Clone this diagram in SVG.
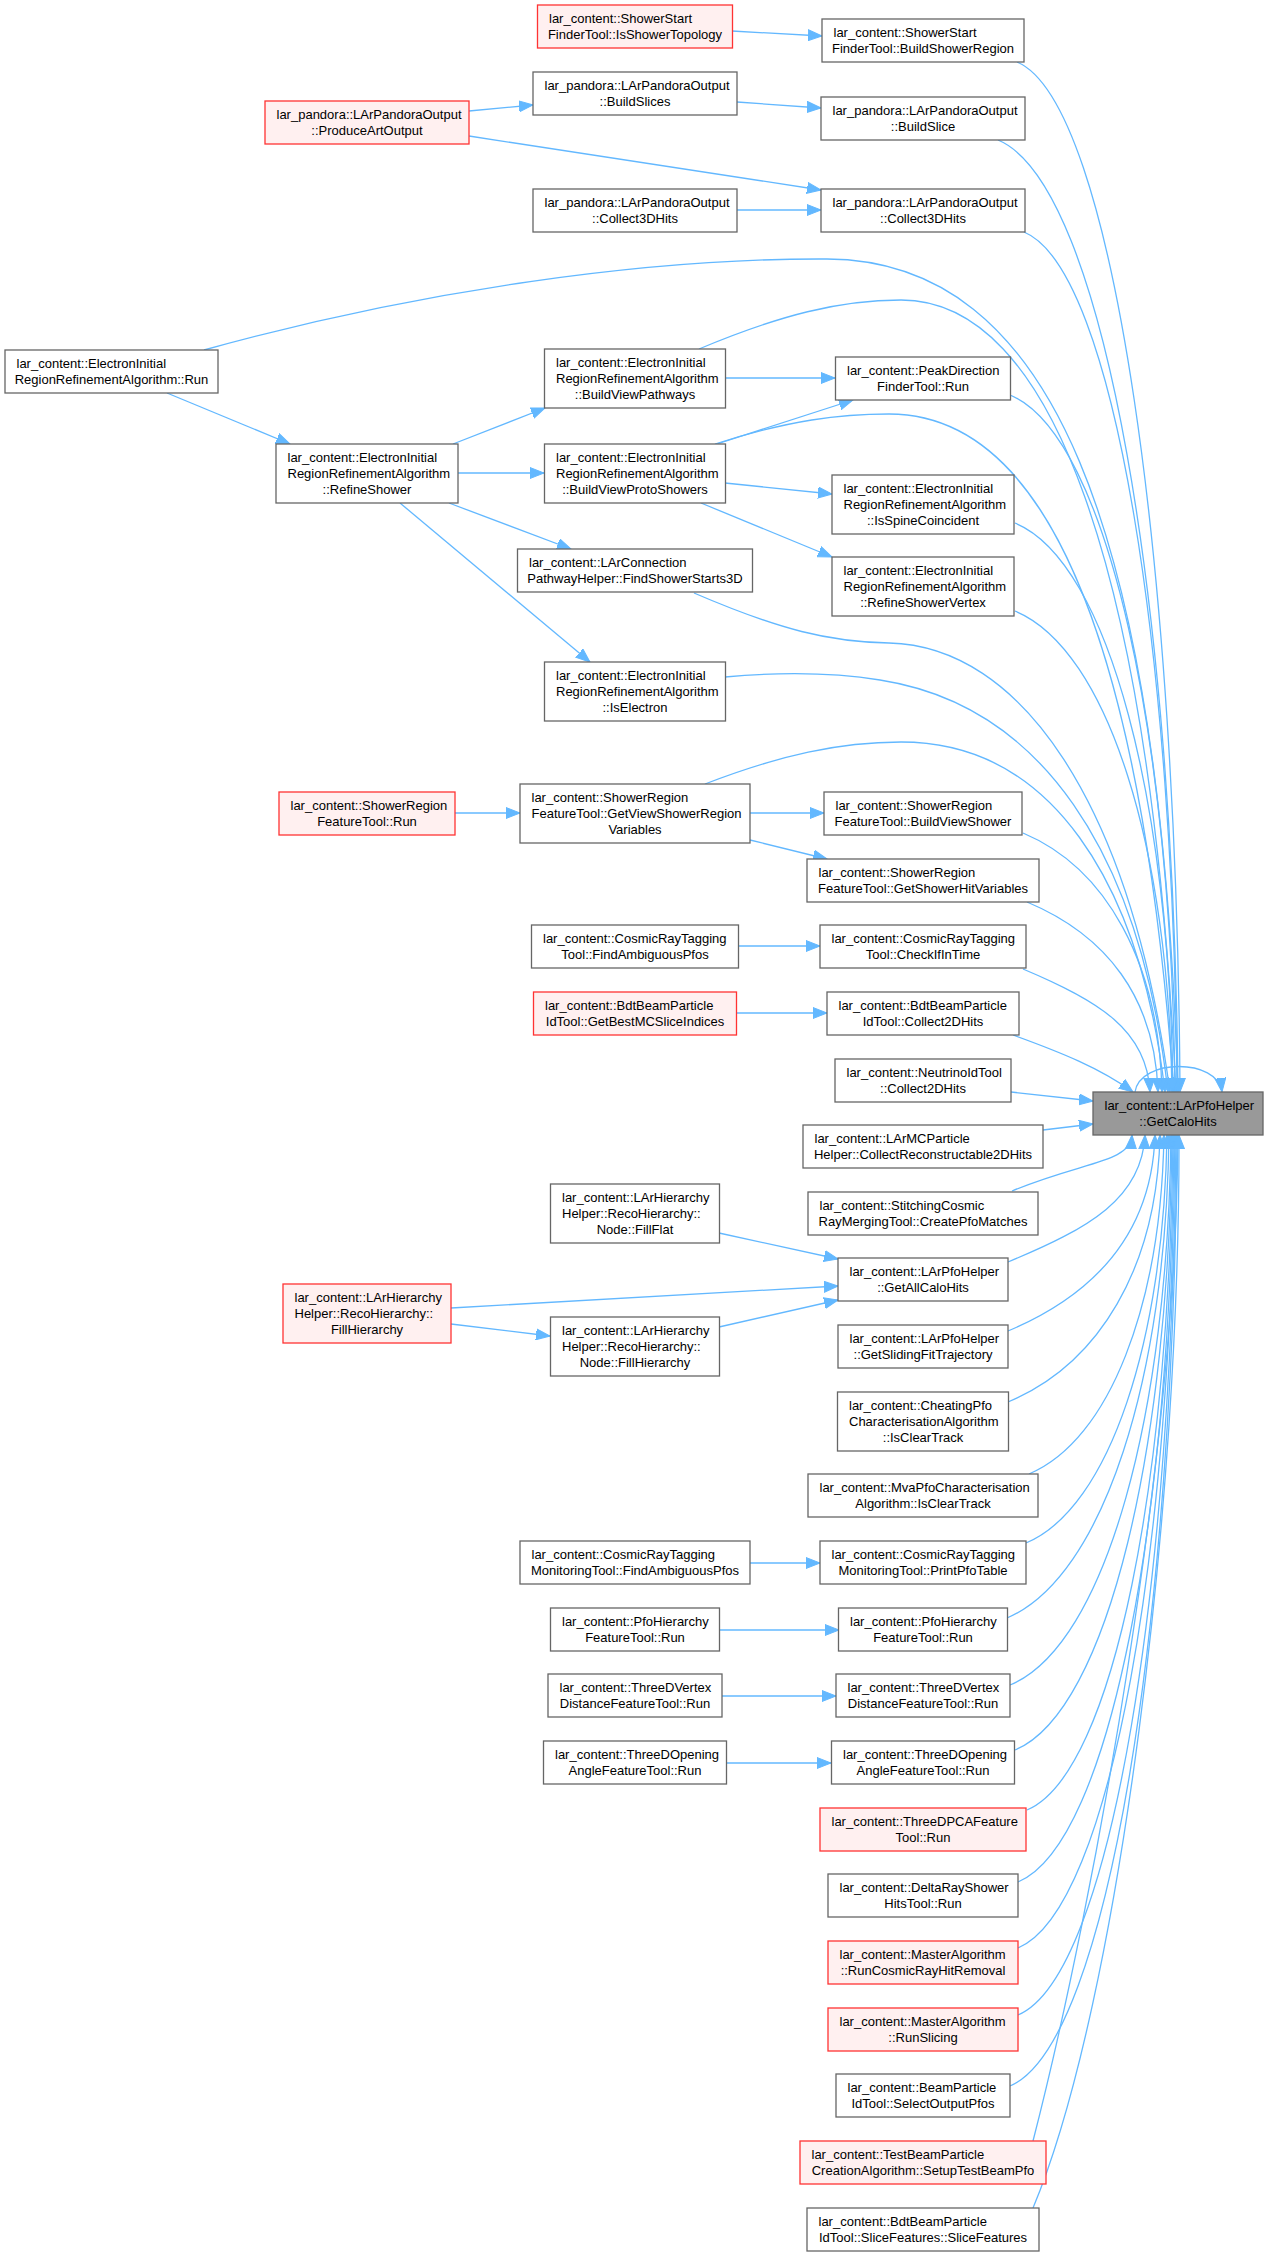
<svg xmlns="http://www.w3.org/2000/svg" width="1267" height="2256" viewBox="0 0 1267 2256">
<style>
text{font-family:"Liberation Sans",Arial,sans-serif;font-size:13px;fill:#000}
.m{text-anchor:middle}
.nd rect{fill:#fff;stroke:#666;stroke-width:1.3}
.rd rect{fill:#fff0f0;stroke:#f33;stroke-width:1.3}
.tg rect{fill:#999;stroke:#666;stroke-width:1.3}
#edges path{fill:none;stroke:#63b8ff;stroke-width:1.3;marker-end:url(#ah)}
</style>
<defs>
<marker id="ah" markerUnits="userSpaceOnUse" markerWidth="16" markerHeight="12" refX="14" refY="6" orient="auto">
<path d="M0,0.5 L14,6 L0,11.5 Z" fill="#63b8ff" stroke="#63b8ff" stroke-width="1"/>
</marker>
</defs>
<rect width="1267" height="2256" fill="#fff"/>
<g id="edges">
<path d="M732,31 L822,36"/>
<path d="M737,102 L821,108"/>
<path d="M469,111 L533,105"/>
<path d="M469,136 L821,190"/>
<path d="M737,210 L821,210"/>
<path d="M167,393 L290,444"/>
<path d="M453,444 L545,408"/>
<path d="M458,473 L544,473"/>
<path d="M449,503 L571,549"/>
<path d="M400,503 L590,662"/>
<path d="M725,378 L835,378"/>
<path d="M717,444 L853,400"/>
<path d="M725,483 L832,494"/>
<path d="M701,503 L832,557"/>
<path d="M750,813 L824,813"/>
<path d="M750,840 L827,859"/>
<path d="M455,813 L520,813"/>
<path d="M738,946 L820,946"/>
<path d="M736,1013 L827,1013"/>
<path d="M719,1233 L838,1259"/>
<path d="M451,1308 L838,1286"/>
<path d="M451,1324 L550,1336"/>
<path d="M719,1327 L838,1300"/>
<path d="M750,1563 L820,1563"/>
<path d="M719,1630 L839,1630"/>
<path d="M722,1696 L836,1696"/>
<path d="M726,1763 L831,1763"/>
<path d="M204,350 C420,290 650,258 827,259 C1050,260 1160,520 1178,1092"/>
<path d="M699,349 C780,315 840,300 901,300 C1050,300 1150,560 1176,1092"/>
<path d="M715,444 C790,420 840,414 889,414 C1040,414 1140,620 1174,1092"/>
<path d="M694,593 C780,630 830,642 889,643 C1020,646 1130,800 1170,1092"/>
<path d="M725,677 C780,672 830,672 880,680 C1040,705 1140,850 1168,1092"/>
<path d="M705,784 C780,755 840,742 901,742 C1050,742 1140,880 1165,1092"/>
<path d="M1017,62 C1115,103 1177,577 1180,1092"/>
<path d="M998,140 C1106,185 1174,616 1178,1092"/>
<path d="M1024,232 C1116,270 1174,662 1177,1092"/>
<path d="M1010,395 C1109,436 1172,743 1175,1092"/>
<path d="M1015,523 C1110,562 1170,807 1173,1092"/>
<path d="M1015,611 C1109,650 1169,851 1172,1092"/>
<path d="M1023,833 C1106,868 1159,962 1162,1092"/>
<path d="M1027,902 C1106,935 1155,997 1158,1092"/>
<path d="M1023,969 C1099,1001 1147,1030 1150,1092"/>
<path d="M1013,1035 C1060,1052 1100,1068 1133,1092"/>
<path d="M1011,1092 L1093,1101"/>
<path d="M1043,1130 L1093,1124"/>
<path d="M1012,1191 C1084,1161 1130,1163 1132,1135"/>
<path d="M1008,1262 C1090,1228 1142,1198 1145,1135"/>
<path d="M1008,1331 C1096,1294 1152,1233 1155,1135"/>
<path d="M1008,1402 C1099,1364 1157,1268 1160,1135"/>
<path d="M1029,1474 C1110,1440 1161,1304 1164,1135"/>
<path d="M1026,1543 C1110,1508 1164,1339 1167,1135"/>
<path d="M1007,1618 C1104,1577 1166,1376 1169,1135"/>
<path d="M1010,1685 C1107,1645 1168,1410 1171,1135"/>
<path d="M1015,1750 C1109,1711 1169,1442 1172,1135"/>
<path d="M1027,1810 C1115,1773 1170,1472 1173,1135"/>
<path d="M1018,1882 C1112,1843 1171,1508 1174,1135"/>
<path d="M1018,1948 C1112,1909 1172,1541 1175,1135"/>
<path d="M1018,2015 C1113,1975 1173,1575 1176,1135"/>
<path d="M1010,2086 C1110,2044 1174,1610 1177,1135"/>
<path d="M1033,2141 C1095,1900 1176,1450 1178,1135"/>
<path d="M1033,2208 C1120,2000 1180,1500 1179,1135"/>
<path d="M1135,1092 C1140,1058 1218,1058 1222,1092"/>
</g>
<g id="n1" class="rd"><rect x="537.5" y="5" width="195" height="43"/><text x="549" y="23">lar_content::ShowerStart</text><text class="m" x="635" y="39">FinderTool::IsShowerTopology</text></g>
<g id="n2" class="nd"><rect x="822" y="19" width="202" height="43"/><text x="833.5" y="37">lar_content::ShowerStart</text><text class="m" x="923" y="53">FinderTool::BuildShowerRegion</text></g>
<g id="n3" class="nd"><rect x="533" y="72" width="204" height="43"/><text x="544.5" y="90">lar_pandora::LArPandoraOutput</text><text class="m" x="635" y="106">::BuildSlices</text></g>
<g id="n4" class="nd"><rect x="821" y="97" width="204" height="43"/><text x="832.5" y="115">lar_pandora::LArPandoraOutput</text><text class="m" x="923" y="131">::BuildSlice</text></g>
<g id="n5" class="rd"><rect x="265" y="101" width="204" height="43"/><text x="276.5" y="119">lar_pandora::LArPandoraOutput</text><text class="m" x="367" y="135">::ProduceArtOutput</text></g>
<g id="n6" class="nd"><rect x="533" y="189" width="204" height="43"/><text x="544.5" y="207">lar_pandora::LArPandoraOutput</text><text class="m" x="635" y="223">::Collect3DHits</text></g>
<g id="n7" class="nd"><rect x="821" y="189" width="204" height="43"/><text x="832.5" y="207">lar_pandora::LArPandoraOutput</text><text class="m" x="923" y="223">::Collect3DHits</text></g>
<g id="n8" class="nd"><rect x="5" y="350" width="213" height="43"/><text x="16.5" y="368">lar_content::ElectronInitial</text><text class="m" x="111.5" y="384">RegionRefinementAlgorithm::Run</text></g>
<g id="n9" class="nd"><rect x="544.5" y="349" width="181" height="59"/><text x="556" y="367">lar_content::ElectronInitial</text><text x="556" y="383">RegionRefinementAlgorithm</text><text class="m" x="635" y="399">::BuildViewPathways</text></g>
<g id="n10" class="nd"><rect x="835.5" y="357" width="175" height="43"/><text x="847" y="375">lar_content::PeakDirection</text><text class="m" x="923" y="391">FinderTool::Run</text></g>
<g id="n11" class="nd"><rect x="276" y="444" width="182" height="59"/><text x="287.5" y="462">lar_content::ElectronInitial</text><text x="287.5" y="478">RegionRefinementAlgorithm</text><text class="m" x="367" y="494">::RefineShower</text></g>
<g id="n12" class="nd"><rect x="544.5" y="444" width="181" height="59"/><text x="556" y="462">lar_content::ElectronInitial</text><text x="556" y="478">RegionRefinementAlgorithm</text><text class="m" x="635" y="494">::BuildViewProtoShowers</text></g>
<g id="n13" class="nd"><rect x="832" y="475" width="182" height="59"/><text x="843.5" y="493">lar_content::ElectronInitial</text><text x="843.5" y="509">RegionRefinementAlgorithm</text><text class="m" x="923" y="525">::IsSpineCoincident</text></g>
<g id="n14" class="nd"><rect x="517.5" y="549" width="235" height="43"/><text x="529" y="567">lar_content::LArConnection</text><text class="m" x="635" y="583">PathwayHelper::FindShowerStarts3D</text></g>
<g id="n15" class="nd"><rect x="832" y="557" width="182" height="59"/><text x="843.5" y="575">lar_content::ElectronInitial</text><text x="843.5" y="591">RegionRefinementAlgorithm</text><text class="m" x="923" y="607">::RefineShowerVertex</text></g>
<g id="n16" class="nd"><rect x="544.5" y="662" width="181" height="59"/><text x="556" y="680">lar_content::ElectronInitial</text><text x="556" y="696">RegionRefinementAlgorithm</text><text class="m" x="635" y="712">::IsElectron</text></g>
<g id="n17" class="rd"><rect x="279" y="792" width="176" height="43"/><text x="290.5" y="810">lar_content::ShowerRegion</text><text class="m" x="367" y="826">FeatureTool::Run</text></g>
<g id="n18" class="nd"><rect x="520" y="784" width="230" height="59"/><text x="531.5" y="802">lar_content::ShowerRegion</text><text x="531.5" y="818">FeatureTool::GetViewShowerRegion</text><text class="m" x="635" y="834">Variables</text></g>
<g id="n19" class="nd"><rect x="824" y="792" width="198" height="43"/><text x="835.5" y="810">lar_content::ShowerRegion</text><text class="m" x="923" y="826">FeatureTool::BuildViewShower</text></g>
<g id="n20" class="nd"><rect x="807" y="859" width="232" height="43"/><text x="818.5" y="877">lar_content::ShowerRegion</text><text class="m" x="923" y="893">FeatureTool::GetShowerHitVariables</text></g>
<g id="n21" class="nd"><rect x="531.5" y="925" width="207" height="43"/><text x="543" y="943">lar_content::CosmicRayTagging</text><text class="m" x="635" y="959">Tool::FindAmbiguousPfos</text></g>
<g id="n22" class="nd"><rect x="820" y="925" width="206" height="43"/><text x="831.5" y="943">lar_content::CosmicRayTagging</text><text class="m" x="923" y="959">Tool::CheckIfInTime</text></g>
<g id="n23" class="rd"><rect x="533.5" y="992" width="203" height="43"/><text x="545" y="1010">lar_content::BdtBeamParticle</text><text class="m" x="635" y="1026">IdTool::GetBestMCSliceIndices</text></g>
<g id="n24" class="nd"><rect x="827" y="992" width="192" height="43"/><text x="838.5" y="1010">lar_content::BdtBeamParticle</text><text class="m" x="923" y="1026">IdTool::Collect2DHits</text></g>
<g id="n25" class="nd"><rect x="835" y="1059" width="176" height="43"/><text x="846.5" y="1077">lar_content::NeutrinoIdTool</text><text class="m" x="923" y="1093">::Collect2DHits</text></g>
<g id="n26" class="tg"><rect x="1093" y="1092" width="170" height="43"/><text x="1104.5" y="1110">lar_content::LArPfoHelper</text><text class="m" x="1178" y="1126">::GetCaloHits</text></g>
<g id="n27" class="nd"><rect x="803" y="1125" width="240" height="43"/><text x="814.5" y="1143">lar_content::LArMCParticle</text><text class="m" x="923" y="1159">Helper::CollectReconstructable2DHits</text></g>
<g id="n28" class="nd"><rect x="550.5" y="1184" width="169" height="59"/><text x="562" y="1202">lar_content::LArHierarchy</text><text x="562" y="1218">Helper::RecoHierarchy::</text><text class="m" x="635" y="1234">Node::FillFlat</text></g>
<g id="n29" class="nd"><rect x="808" y="1192" width="230" height="43"/><text x="819.5" y="1210">lar_content::StitchingCosmic</text><text class="m" x="923" y="1226">RayMergingTool::CreatePfoMatches</text></g>
<g id="n30" class="nd"><rect x="838" y="1258" width="170" height="43"/><text x="849.5" y="1276">lar_content::LArPfoHelper</text><text class="m" x="923" y="1292">::GetAllCaloHits</text></g>
<g id="n31" class="rd"><rect x="283" y="1284" width="168" height="59"/><text x="294.5" y="1302">lar_content::LArHierarchy</text><text x="294.5" y="1318">Helper::RecoHierarchy::</text><text class="m" x="367" y="1334">FillHierarchy</text></g>
<g id="n32" class="nd"><rect x="550.5" y="1317" width="169" height="59"/><text x="562" y="1335">lar_content::LArHierarchy</text><text x="562" y="1351">Helper::RecoHierarchy::</text><text class="m" x="635" y="1367">Node::FillHierarchy</text></g>
<g id="n33" class="nd"><rect x="838" y="1325" width="170" height="43"/><text x="849.5" y="1343">lar_content::LArPfoHelper</text><text class="m" x="923" y="1359">::GetSlidingFitTrajectory</text></g>
<g id="n34" class="nd"><rect x="837.5" y="1392" width="171" height="59"/><text x="849" y="1410">lar_content::CheatingPfo</text><text x="849" y="1426">CharacterisationAlgorithm</text><text class="m" x="923" y="1442">::IsClearTrack</text></g>
<g id="n35" class="nd"><rect x="808" y="1474" width="230" height="43"/><text x="819.5" y="1492">lar_content::MvaPfoCharacterisation</text><text class="m" x="923" y="1508">Algorithm::IsClearTrack</text></g>
<g id="n36" class="nd"><rect x="520" y="1541" width="230" height="43"/><text x="531.5" y="1559">lar_content::CosmicRayTagging</text><text class="m" x="635" y="1575">MonitoringTool::FindAmbiguousPfos</text></g>
<g id="n37" class="nd"><rect x="820" y="1541" width="206" height="43"/><text x="831.5" y="1559">lar_content::CosmicRayTagging</text><text class="m" x="923" y="1575">MonitoringTool::PrintPfoTable</text></g>
<g id="n38" class="nd"><rect x="550.5" y="1608" width="169" height="43"/><text x="562" y="1626">lar_content::PfoHierarchy</text><text class="m" x="635" y="1642">FeatureTool::Run</text></g>
<g id="n39" class="nd"><rect x="838.5" y="1608" width="169" height="43"/><text x="850" y="1626">lar_content::PfoHierarchy</text><text class="m" x="923" y="1642">FeatureTool::Run</text></g>
<g id="n40" class="nd"><rect x="548" y="1674" width="174" height="43"/><text x="559.5" y="1692">lar_content::ThreeDVertex</text><text class="m" x="635" y="1708">DistanceFeatureTool::Run</text></g>
<g id="n41" class="nd"><rect x="836" y="1674" width="174" height="43"/><text x="847.5" y="1692">lar_content::ThreeDVertex</text><text class="m" x="923" y="1708">DistanceFeatureTool::Run</text></g>
<g id="n42" class="nd"><rect x="543.5" y="1741" width="183" height="43"/><text x="555" y="1759">lar_content::ThreeDOpening</text><text class="m" x="635" y="1775">AngleFeatureTool::Run</text></g>
<g id="n43" class="nd"><rect x="831.5" y="1741" width="183" height="43"/><text x="843" y="1759">lar_content::ThreeDOpening</text><text class="m" x="923" y="1775">AngleFeatureTool::Run</text></g>
<g id="n44" class="rd"><rect x="820" y="1808" width="206" height="43"/><text x="831.5" y="1826">lar_content::ThreeDPCAFeature</text><text class="m" x="923" y="1842">Tool::Run</text></g>
<g id="n45" class="nd"><rect x="828" y="1874" width="190" height="43"/><text x="839.5" y="1892">lar_content::DeltaRayShower</text><text class="m" x="923" y="1908">HitsTool::Run</text></g>
<g id="n46" class="rd"><rect x="828" y="1941" width="190" height="43"/><text x="839.5" y="1959">lar_content::MasterAlgorithm</text><text class="m" x="923" y="1975">::RunCosmicRayHitRemoval</text></g>
<g id="n47" class="rd"><rect x="828" y="2008" width="190" height="43"/><text x="839.5" y="2026">lar_content::MasterAlgorithm</text><text class="m" x="923" y="2042">::RunSlicing</text></g>
<g id="n48" class="nd"><rect x="836" y="2074" width="174" height="43"/><text x="847.5" y="2092">lar_content::BeamParticle</text><text class="m" x="923" y="2108">IdTool::SelectOutputPfos</text></g>
<g id="n49" class="rd"><rect x="800" y="2141" width="246" height="43"/><text x="811.5" y="2159">lar_content::TestBeamParticle</text><text class="m" x="923" y="2175">CreationAlgorithm::SetupTestBeamPfo</text></g>
<g id="n50" class="nd"><rect x="807" y="2208" width="232" height="43"/><text x="818.5" y="2226">lar_content::BdtBeamParticle</text><text class="m" x="923" y="2242">IdTool::SliceFeatures::SliceFeatures</text></g>
</svg>
